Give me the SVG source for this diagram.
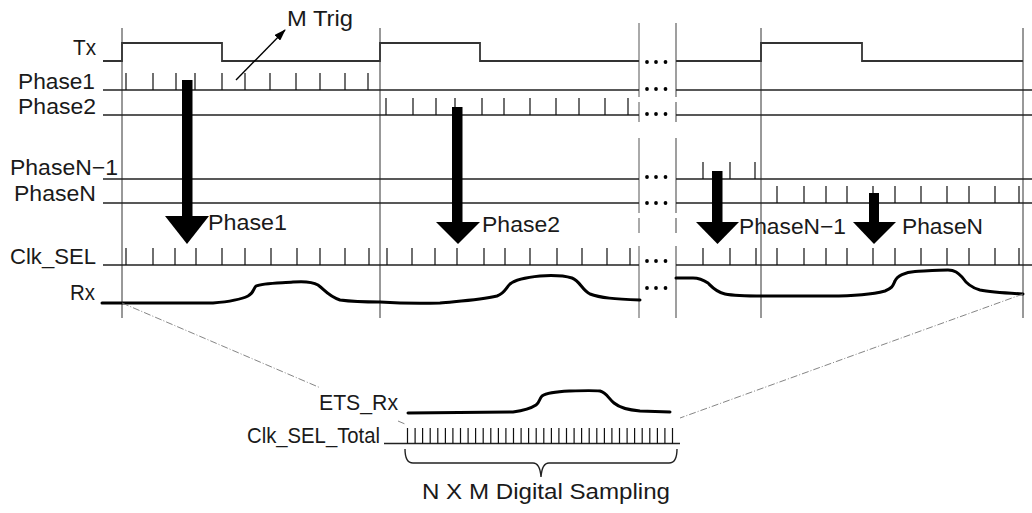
<svg xmlns="http://www.w3.org/2000/svg" width="1032" height="513" viewBox="0 0 1032 513">
<defs>
<style>
text{font-family:"Liberation Sans",Arial,sans-serif;font-size:22px;fill:#1a1a1a;}
.sig{fill:none;stroke:#222;stroke-width:1.6;}
.tx{fill:none;stroke:#333;stroke-width:1.8;}
.tick{fill:none;stroke:#111;stroke-width:1.2;}
.vl{fill:none;stroke:#333;stroke-width:1;}
.sepA{fill:none;stroke:#aaa;stroke-width:2;}
.sepB{fill:none;stroke:#777;stroke-width:1.4;}
.rx{fill:none;stroke:#000;stroke-width:3;stroke-linejoin:round;stroke-linecap:round;}
.dash{fill:none;stroke:#777;stroke-width:0.9;stroke-dasharray:7 2 1 2;}
.big{fill:#000;}
.dot{fill:#000;}
</style>
<marker id="ah" markerWidth="12" markerHeight="8" refX="11" refY="4" orient="auto" markerUnits="userSpaceOnUse">
<path d="M0,0 L12,4 L0,8 Z" fill="#000"/>
</marker>
</defs>
<rect width="1032" height="513" fill="#fff"/>

<g id="gridlines">
<path class="vl" d="M122,28 V318 M380,28 V318 M761,28 V318 M1023,28 V318"/>
<path class="sepA" d="M639,23 V97 M639,102 V122 M639,138 V213 M639,218 V233 M639,246 V318"/>
<path class="sepB" d="M676,23 V97 M676,102 V122 M676,138 V213 M676,218 V233 M676,246 V318"/>
</g>

<g id="labels">
<text x="73" y="55" textLength="23" lengthAdjust="spacingAndGlyphs">Tx</text>
<text x="18" y="89" textLength="77" lengthAdjust="spacingAndGlyphs">Phase1</text>
<text x="18" y="114" textLength="78" lengthAdjust="spacingAndGlyphs">Phase2</text>
<text x="10" y="175" textLength="108" lengthAdjust="spacingAndGlyphs">PhaseN−1</text>
<text x="14" y="201" textLength="82" lengthAdjust="spacingAndGlyphs">PhaseN</text>
<text x="10" y="264" textLength="86" lengthAdjust="spacingAndGlyphs">Clk_SEL</text>
<text x="70" y="300" textLength="25" lengthAdjust="spacingAndGlyphs">Rx</text>
</g>

<g id="tx">
<path class="tx" d="M103,61 H122 V43 H222 V61 H380 V43 H480 V61 H639"/>
<path class="tx" d="M676,61 H761 V43 H862 V61 H1023"/>
</g>

<g id="phase1">
<path class="sig" d="M103,90 H639 M676,90 H1032"/>
<path class="tick" d="M126,73V90M153,73V90M176,73V90M195,73V90M222,73V90M245,73V90M270,73V90M296,73V90M320,73V90M345,73V90M368,73V90"/>
</g>

<g id="phase2">
<path class="sig" d="M103,115 H639 M676,115 H1032"/>
<path class="tick" d="M386,98V115M413,98V115M436,98V115M455,98V115M482,98V115M504,98V115M530,98V115M556,98V115M579,98V115M605,98V115M628,98V115"/>
</g>

<g id="phaseN-1">
<path class="sig" d="M103,179 H639 M676,179 H1032"/>
<path class="tick" d="M703,162V179M730,162V179M755,162V179"/>
</g>

<g id="phaseN">
<path class="sig" d="M103,203 H639 M676,203 H1032"/>
<path class="tick" d="M777,186V203M804,186V203M826,186V203M847,186V203M873,186V203M895,186V203M921,186V203M947,186V203M969,186V203M995,186V203M1019,186V203"/>
</g>

<g id="clk-sel">
<path class="sig" d="M103,265 H639 M676,265 H1032"/>
<path class="tick" d="M126,248V265M153,248V265M175,248V265M196,248V265M222,248V265M245,248V265M271,248V265M297,248V265M320,248V265M345,248V265M369,248V265M387,248V265M412,248V265M435,248V265M457,248V265M484,248V265M505,248V265M530,248V265M557,248V265M582,248V265M607,248V265M630,248V265"/>
<path class="tick" d="M703,248V265M730,248V265M756,248V265M777,248V265M804,248V265M826,248V265M847,248V265M873,248V265M895,248V265M921,248V265M947,248V265M969,248V265M995,248V265M1019,248V265"/>
</g>

<g id="rx">
<path class="rx" d="M102,303 L213,303 C225,302 240,300 248,296 C254,293 253,289 256,286 C262,283 280,283 293,282 C305,281 313,282 318,285 C325,290 328,296 340,300 C355,302 370,302 380,302 C395,303 410,304 440,303 C460,301 480,300 497,296 C505,293 505,289 510,284 C516,279 530,277 540,276 C555,275 565,276 572,278 C580,281 582,290 590,294 C600,298 615,299 640,300"/>
<path class="rx" d="M676,278 L693,278 C700,278 705,281 708,283 C712,287 716,292 725,294 C735,296 745,296 763,296 L830,296 C850,296 870,295 885,291 C893,288 893,285 895,281 C897,276 905,272 915,271.5 C925,271 940,270 948,270 C955,270 958,273 962,277 C966,283 972,288 980,290 C990,292 1005,293 1023,294"/>
</g>

<g id="dots">
<g class="dot">
<circle cx="647" cy="62" r="1.9"/><circle cx="656" cy="62" r="1.9"/><circle cx="665.5" cy="62" r="1.9"/>
<circle cx="647" cy="89" r="1.9"/><circle cx="656" cy="89" r="1.9"/><circle cx="665.5" cy="89" r="1.9"/>
<circle cx="647" cy="114" r="1.9"/><circle cx="656" cy="114" r="1.9"/><circle cx="665.5" cy="114" r="1.9"/>
<circle cx="647" cy="177" r="1.9"/><circle cx="656" cy="177" r="1.9"/><circle cx="665.5" cy="177" r="1.9"/>
<circle cx="647" cy="203" r="1.9"/><circle cx="656" cy="203" r="1.9"/><circle cx="665.5" cy="203" r="1.9"/>
<circle cx="647" cy="261" r="1.9"/><circle cx="656" cy="261" r="1.9"/><circle cx="665.5" cy="261" r="1.9"/>
<circle cx="647" cy="288" r="1.9"/><circle cx="656" cy="288" r="1.9"/><circle cx="665.5" cy="288" r="1.9"/>
</g>
</g>

<g id="select-arrows">
<rect class="big" x="182" y="80" width="10.5" height="137"/>
<polygon class="big" points="165,216 209,216 187,244"/>
<text x="208" y="230" textLength="79" lengthAdjust="spacingAndGlyphs">Phase1</text>
<rect class="big" x="452" y="107" width="10.5" height="116"/>
<polygon class="big" points="436,222 480,222 458,244"/>
<text x="482" y="232" textLength="78" lengthAdjust="spacingAndGlyphs">Phase2</text>
<rect class="big" x="712" y="171" width="10.5" height="52"/>
<polygon class="big" points="696,222 739,222 717.5,244"/>
<text x="739" y="234" textLength="107" lengthAdjust="spacingAndGlyphs">PhaseN−1</text>
<rect class="big" x="869" y="193" width="10" height="30"/>
<polygon class="big" points="853,222 896,222 874,244"/>
<text x="902" y="234" textLength="81" lengthAdjust="spacingAndGlyphs">PhaseN</text>
</g>

<g id="m-trig">
<line x1="236" y1="80" x2="285" y2="30" stroke="#000" stroke-width="1.4" marker-end="url(#ah)"/>
<text x="287" y="26" textLength="66" lengthAdjust="spacingAndGlyphs">M Trig</text>
</g>

<g id="connectors">
<path class="dash" d="M122,303 L320,387.7 M398,421 L405,424"/>
<path class="dash" d="M1023,294 L680,418"/>
</g>

<g id="ets">
<text x="319" y="410" textLength="79" lengthAdjust="spacingAndGlyphs">ETS_Rx</text>
<path class="rx" d="M408,413 L513,412 C520,411 530,409 536,405 C540,402 539,399 542,396 C548,392 560,391.5 570,391 C585,390.5 595,390.5 600,391 C607,393 608,398 614,403 C620,408 628,410 640,411 L670,412"/>
<text x="247" y="443" textLength="133" lengthAdjust="spacingAndGlyphs">Clk_SEL_Total</text>
<path class="sig" d="M384,443.5 H680"/>
<path class="tick" d="M407.5,428V443.5M415.1,428V443.5M422.6,428V443.5M430.2,428V443.5M437.8,428V443.5M445.4,428V443.5M452.9,428V443.5M460.5,428V443.5M468.1,428V443.5M475.6,428V443.5M483.2,428V443.5M490.8,428V443.5M498.4,428V443.5M505.9,428V443.5M513.5,428V443.5M521.1,428V443.5M528.6,428V443.5M536.2,428V443.5M543.8,428V443.5M551.4,428V443.5M558.9,428V443.5M566.5,428V443.5M574.1,428V443.5M581.6,428V443.5M589.2,428V443.5M596.8,428V443.5M604.4,428V443.5M611.9,428V443.5M619.5,428V443.5M627.1,428V443.5M634.6,428V443.5M642.2,428V443.5M649.8,428V443.5M657.4,428V443.5M664.9,428V443.5M672.5,428V443.5"/>
<path fill="none" stroke="#222" stroke-width="1.4" d="M405,449 Q405,463 413,463 L533,463 Q540,463 541,477 Q542,463 549,463 L669,463 Q677,463 677,449"/>
<text x="422" y="499" textLength="248" lengthAdjust="spacingAndGlyphs">N X M Digital Sampling</text>
</g>
</svg>
